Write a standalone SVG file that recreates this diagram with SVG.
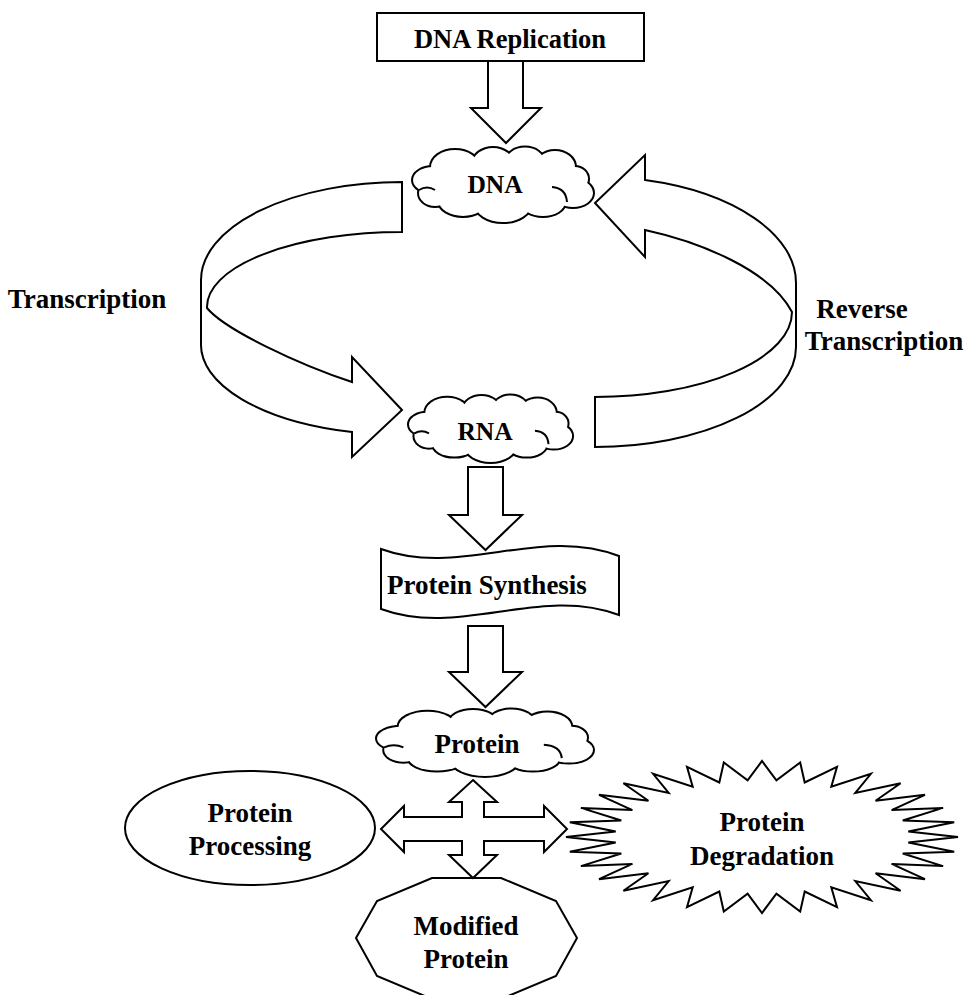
<svg xmlns="http://www.w3.org/2000/svg" xmlns:xlink="http://www.w3.org/1999/xlink" width="966" height="995" viewBox="0 0 966 995">
<style>
.s{fill:#fff;stroke:#000;stroke-width:2;stroke-linejoin:miter}
.t{font-family:"Liberation Serif","Times New Roman",serif;font-weight:bold;font-size:27px;text-anchor:middle;fill:#000}
.m{font-size:25.5px}
</style>
<defs>
<g id="cloudShape">
<ellipse cx="42" cy="20" rx="24" ry="17" vector-effect="non-scaling-stroke"/>
<ellipse cx="80" cy="16" rx="20" ry="15" vector-effect="non-scaling-stroke"/>
<ellipse cx="112" cy="15" rx="19" ry="14.5" vector-effect="non-scaling-stroke"/>
<ellipse cx="142" cy="20" rx="20" ry="16" vector-effect="non-scaling-stroke"/>
<ellipse cx="162" cy="32" rx="13" ry="12" vector-effect="non-scaling-stroke"/>
<ellipse cx="160" cy="46" rx="20" ry="14" vector-effect="non-scaling-stroke"/>
<ellipse cx="130" cy="55" rx="22" ry="14" vector-effect="non-scaling-stroke"/>
<ellipse cx="90" cy="57" rx="28" ry="18" vector-effect="non-scaling-stroke"/>
<ellipse cx="50" cy="54" rx="24" ry="15" vector-effect="non-scaling-stroke"/>
<ellipse cx="22" cy="46" rx="16" ry="13" vector-effect="non-scaling-stroke"/>
<ellipse cx="20" cy="33" rx="20" ry="13" vector-effect="non-scaling-stroke"/>
<ellipse cx="90" cy="38" rx="70" ry="24" vector-effect="non-scaling-stroke"/>
</g>
<g id="cloudInner">
<path d="M6,43 Q14,38 22,43" vector-effect="non-scaling-stroke"/>
<path d="M139,40 Q153,41 154,55" vector-effect="non-scaling-stroke"/>
</g>
<g id="cloud">
<use xlink:href="#cloudShape" fill="none" stroke="#000" stroke-width="4"/>
<use xlink:href="#cloudShape" fill="#fff" stroke="none"/>
<use xlink:href="#cloudInner" fill="none" stroke="#000" stroke-width="2"/>
</g>
</defs>

<g id="node-dna-replication">
<rect class="s" x="377" y="13" width="267" height="48"/>
<text class="t" x="510" y="48" style="font-size:26.5px">DNA Replication</text>
</g>

<g id="node-dna">
<use xlink:href="#cloud" transform="translate(413,147)"/>
<text class="t m" x="495" y="193">DNA</text>
</g>

<g id="node-rna">
<use xlink:href="#cloud" transform="translate(409,395) scale(0.906,0.893)"/>
<text class="t m" x="485" y="440">RNA</text>
</g>

<g id="node-protein-synthesis">
<path class="s" d="M381,549 C460,578 540,525 619,556 L619,615 C540,585 460,638 381,609 Z"/>
<text class="t" x="487" y="594">Protein Synthesis</text>
</g>

<g id="node-protein">
<use xlink:href="#cloud" transform="translate(377,709) scale(1.2,0.893)"/>
<text class="t" x="477" y="753">Protein</text>
</g>

<g id="node-protein-processing">
<ellipse class="s" cx="250" cy="828" rx="125" ry="57"/>
<text class="t" x="250" y="822">Protein</text>
<text class="t" x="250" y="855">Processing</text>
</g>

<g id="node-protein-degradation">
<polygon class="s" points="958,837 908.3,831.4 954.2,822.2 902.7,820.5 943.1,807.9 891.6,810.1 925,794.8 875.6,800.8 900.6,783.3 855.3,792.9 870.9,773.8 831.3,786.7 837,766.8 804.7,782.5 800.2,762.5 776.4,780.3 762,761 747.6,780.3 723.8,762.5 719.3,782.5 687,766.8 692.7,786.7 653.1,773.8 668.7,792.9 623.4,783.3 648.4,800.8 599,794.8 632.4,810.1 580.9,807.9 621.3,820.5 569.8,822.2 615.7,831.4 566,837 615.7,842.6 569.8,851.8 621.3,853.5 580.9,866.1 632.4,863.9 599,879.2 648.4,873.2 623.4,890.7 668.7,881.1 653.1,900.2 692.7,887.3 687,907.2 719.3,891.5 723.8,911.5 747.6,893.7 762,913 776.4,893.7 800.2,911.5 804.7,891.5 837,907.2 831.3,887.3 870.9,900.2 855.3,881.1 900.6,890.7 875.6,873.2 925,879.2 891.6,863.9 943.1,866.1 902.7,853.5 954.2,851.8 908.3,842.6"/>
<text class="t" x="762" y="831">Protein</text>
<text class="t" x="762" y="865">Degradation</text>
</g>

<g id="node-modified-protein">
<polygon class="s" points="432,878 501,878 556,901 577,938 556,976 501,999 432,999 377,976 356,938 377,901"/>
<text class="t" x="466" y="935">Modified</text>
<text class="t" x="466" y="968">Protein</text>
</g>

<g id="connectors">
<path class="s" d="M488,61 L523,61 L523,108 L541,108 L506,143 L471,108 L488,108 Z"/>
<path class="s" d="M402,182 A201,98 0 0 0 201,280 L201,343 A201,90 0 0 0 352,432 L352,457 L402,410 L352,357 L352,382 C300,365 225,330 207,308 A195,75 0 0 1 402,232 Z"/>
<path class="s" d="M595,397 L595,447 A201,100 0 0 0 796,347 L796,283 A201,106 0 0 0 645,180 L645,155 L595,203 L645,257 L645,230 C700,242 770,270 792,312 A197,85 0 0 1 595,397 Z"/>
<path class="s" d="M468,467 L503,467 L503,515 L522,515 L485.5,550 L449,515 L468,515 Z"/>
<path class="s" d="M468,626 L503,626 L503,672 L522,672 L485.5,707 L449,672 L468,672 Z"/>
<path class="s" d="M473,780 L497,802 L484,802 L484,817 L544,817 L544,806 L567,829 L544,852 L544,841 L484,841 L484,855 L497,855 L473,878 L449,855 L462,855 L462,841 L404,841 L404,852 L381,829 L404,806 L404,817 L462,817 L462,802 L449,802 Z"/>
</g>

<g id="labels">
<text class="t" x="87" y="308">Transcription</text>
<text class="t" x="862" y="318">Reverse</text>
<text class="t" x="884" y="350">Transcription</text>
</g>
</svg>
